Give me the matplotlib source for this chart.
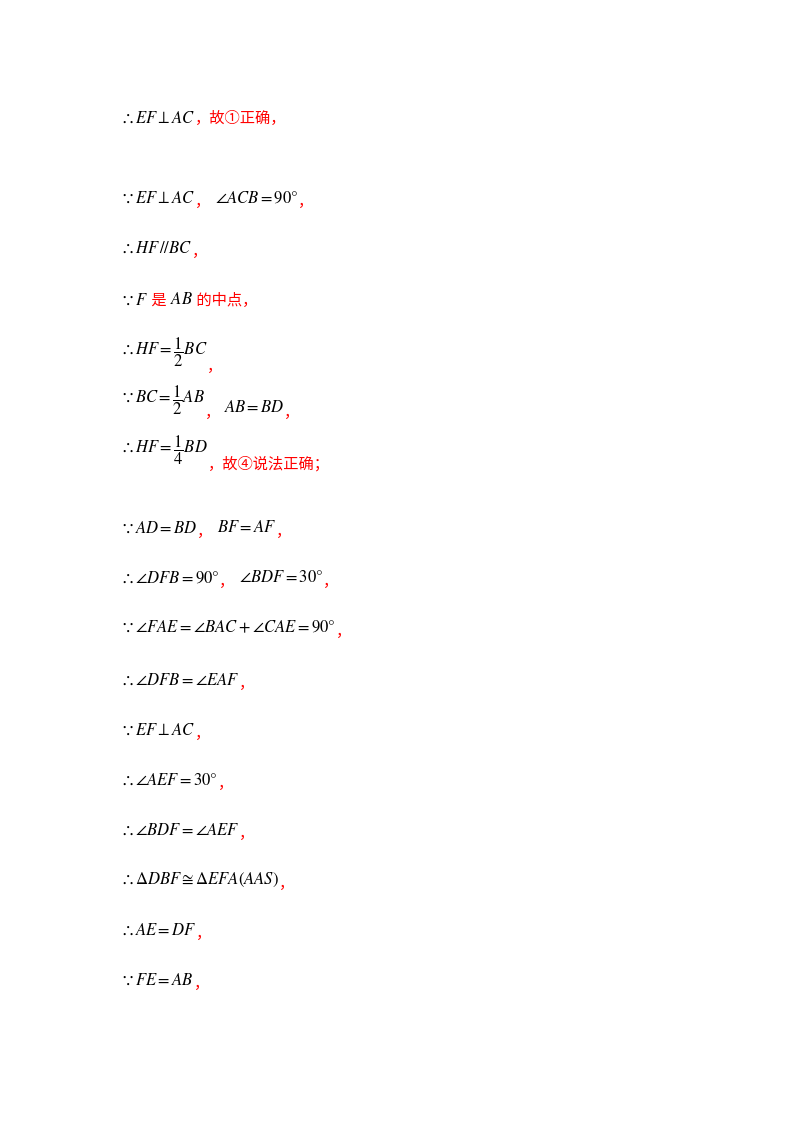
import matplotlib
matplotlib.use("Agg")
import matplotlib.pyplot as plt

plt.rcParams['mathtext.fontset'] = 'stix'
plt.rcParams['font.family'] = ['Noto Sans CJK SC', 'DejaVu Sans']

RED = '#ff0000'
K = 'black'

# each line: list of (text, colour, vertical offset in px)
lines = [
    [(r'$\therefore EF\perp AC$', K, 0), ('，故①正确，', RED, 0)],
    [(r'$\because EF\perp AC$', K, 0), ('，', RED, -3), (r'$\ \angle ACB=90\degree$', K, 0), ('，', RED, -3)],
    [(r'$\therefore HF\,//BC$', K, 0), ('，', RED, -3)],
    [(r'$\because F$', K, 0), (' 是 ', RED, 0), (r'$AB$', K, 0), (' 的中点，', RED, 0)],
    [(r'$\therefore HF=\dfrac{1}{2}BC$', K, 0), ('，', RED, -14)],
    [(r'$\because BC=\dfrac{1}{2}AB$', K, 0), ('，', RED, -12), (r'$\ AB=BD$', K, -8), ('，', RED, -12)],
    [(r'$\therefore HF=\dfrac{1}{4}BD$', K, 0), ('，故④说法正确；', RED, -14)],
    [(r'$\because AD=BD$', K, 0), ('，', RED, -3), (r'$\ BF=AF$', K, 0), ('，', RED, -3)],
    [(r'$\therefore \angle DFB=90\degree$', K, 0), ('，', RED, -3), (r'$\ \angle BDF=30\degree$', K, 0), ('，', RED, -3)],
    [(r'$\because \angle FAE=\angle BAC+\angle CAE=90\degree$', K, 0), ('，', RED, -3)],
    [(r'$\therefore \angle DFB=\angle EAF$', K, 0), ('，', RED, -3)],
    [(r'$\because EF\perp AC$', K, 0), ('，', RED, -3)],
    [(r'$\therefore \angle AEF=30\degree$', K, 0), ('，', RED, -3)],
    [(r'$\therefore \angle BDF=\angle AEF$', K, 0), ('，', RED, -3)],
    [(r'$\therefore \Delta DBF\cong\Delta EFA(AAS)$', K, 0), ('，', RED, -3)],
    [(r'$\therefore AE=DF$', K, 0), ('，', RED, -3)],
    [(r'$\because FE=AB$', K, 0), ('，', RED, -3)],
]
line_y = [118, 198, 248, 300, 352, 400, 450, 528, 578, 628, 680, 730, 780, 830, 880, 930, 980]

W, H = 800, 1132
fig = plt.figure(figsize=(W / 100, H / 100), dpi=100)
fig.patch.set_facecolor('white')
r = fig.canvas.get_renderer()

for segs, y in zip(lines, line_y):
    x = 120
    for txt, col, dy in segs:
        size = 12 if col == K else 11
        t = fig.text(x / W, 1 - (y - dy) / H, txt, color=col, fontsize=size,
                     ha='left', va='center')
        x += t.get_window_extent(renderer=r).width

fig.savefig('out.png', dpi=100, facecolor='white')
